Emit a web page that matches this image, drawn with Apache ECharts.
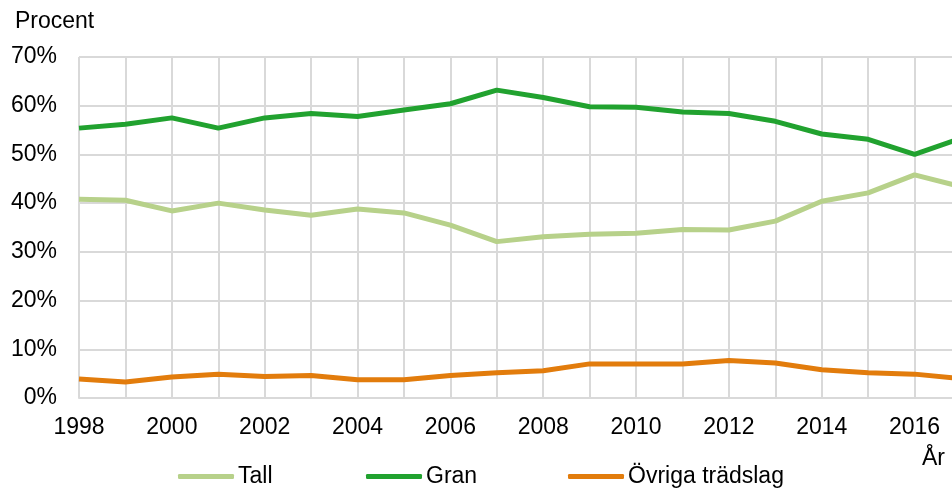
<!DOCTYPE html>
<html>
<head>
<meta charset="utf-8">
<script src="https://cdn.jsdelivr.net/npm/echarts@6/dist/echarts.min.js"></script>
<style>
  html, body { margin: 0; padding: 0; background: #fff; }
  #main { width: 952px; height: 489px; }
</style>
</head>
<body>
<div id="main"></div>
<script>
// år 1998-2017, andel i procent
const years = ['1998', '1999', '2000', '2001', '2002', '2003', '2004', '2005', '2006', '2007',
  '2008', '2009', '2010', '2011', '2012', '2013', '2014', '2015', '2016', '2017']
const tall = [40.8, 40.6, 38.4, 40.0, 38.6, 37.5, 38.8, 38.0, 35.5, 32.1,
  33.1, 33.6, 33.8, 34.6, 34.5, 36.3, 40.4, 42.1, 45.8, 43.4]
const gran = [55.4, 56.2, 57.5, 55.4, 57.5, 58.4, 57.8, 59.1, 60.4, 63.2,
  61.7, 59.8, 59.7, 58.7, 58.4, 56.8, 54.2, 53.1, 50.0, 53.3]
const ovriga = [3.9, 3.3, 4.3, 4.9, 4.4, 4.6, 3.75, 3.75, 4.6, 5.2,
  5.6, 7.0, 7.0, 7.0, 7.7, 7.2, 5.8, 5.2, 4.9, 4.0]

const font = 'Liberation Sans, Arial, sans-serif'
const colors = { tall: '#b7d18a', gran: '#21a22f', ovriga: '#e27c0c' }

let myChart = echarts.init(document.getElementById('main'))

function legendFor (name, left) {
  return {
    data: [name],
    left: left,
    top: 465,
    icon: 'roundRect',
    itemWidth: 56,
    itemHeight: 5,
    padding: 0,
    textStyle: { color: '#000', fontSize: 23, fontFamily: font, padding: [0, 0, 0, -1] }
  }
}

let option = {
  animation: false,
  // plottet fortsätter förbi högerkanten (2017 hamnar utanför bilden)
  grid: { left: 79, width: 882, top: 57, bottom: 91, containLabel: false, outerBoundsMode: 'none' },
  legend: [
    legendFor('Tall', 178),
    legendFor('Gran', 366),
    legendFor('Övriga trädslag', 568)
  ],
  graphic: [
    { type: 'text', left: 15, top: 10, style: { text: 'Procent', fontSize: 23, fontFamily: font, fill: '#000' } },
    { type: 'text', left: 922, top: 447, style: { text: 'År', fontSize: 23, fontFamily: font, fill: '#000' } }
  ],
  xAxis: {
    type: 'category',
    data: years,
    boundaryGap: false,
    axisLine: { lineStyle: { color: '#d9d9d9', width: 2 } },
    axisTick: { show: false },
    axisLabel: { interval: 1, margin: 18, color: '#000', fontSize: 23, fontFamily: font },
    splitLine: { show: true, interval: 0, lineStyle: { color: '#d9d9d9', width: 2 } }
  },
  yAxis: {
    type: 'value',
    min: 0,
    max: 70,
    interval: 10,
    axisLine: { show: false },
    axisTick: { show: false },
    axisLabel: { formatter: '{value}%', margin: 22, color: '#000', fontSize: 23, fontFamily: font },
    splitLine: { lineStyle: { color: '#d9d9d9', width: 2 } }
  },
  series: [
    { name: 'Tall', type: 'line', data: tall, symbol: 'none', color: colors.tall, lineStyle: { width: 5, color: colors.tall } },
    { name: 'Gran', type: 'line', data: gran, symbol: 'none', color: colors.gran, lineStyle: { width: 5, color: colors.gran } },
    { name: 'Övriga trädslag', type: 'line', data: ovriga, symbol: 'none', color: colors.ovriga, lineStyle: { width: 5, color: colors.ovriga } }
  ]
}
myChart.setOption(option, true)
</script>
</body>
</html>
